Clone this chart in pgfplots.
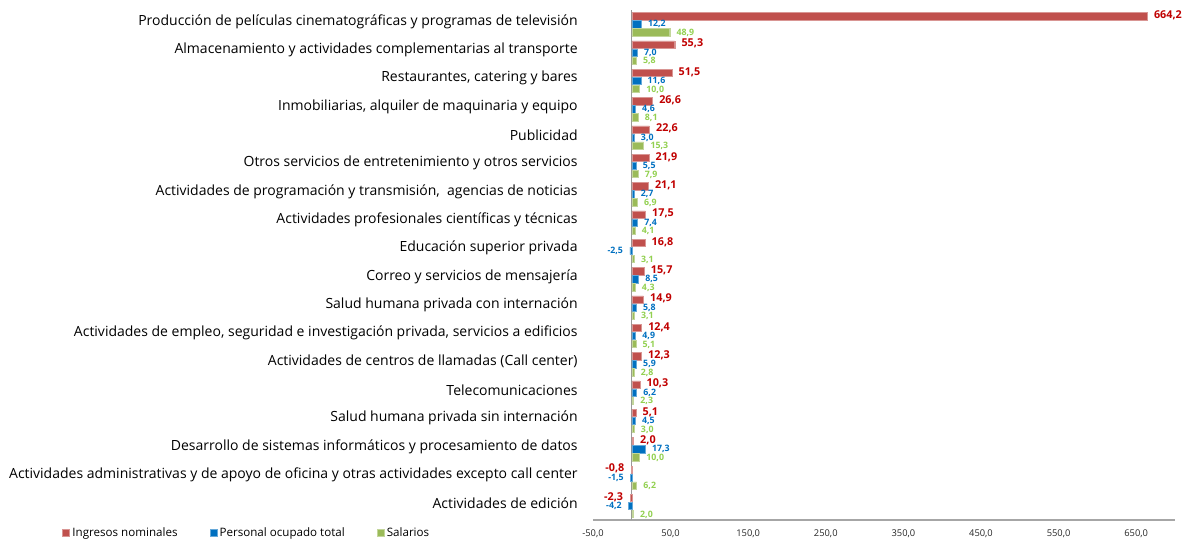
\documentclass[border=0pt]{standalone}
\usepackage{pgfplots}
\usepackage{pgfplotstable}
\pgfplotsset{compat=1.18}
\usepackage{fontspec}
\setmainfont{Open Sans}
\definecolor{cRed}{HTML}{C0504D}
\definecolor{cBlue}{HTML}{0070C0}
\definecolor{cGreen}{HTML}{9BBB59}
\definecolor{lRed}{HTML}{C00000}
\definecolor{lGreen}{HTML}{92D050}
\pgfplotstableread{
idx ing per sal
0 664.2 12.2 48.9
1 55.3 7.0 5.8
2 51.5 11.6 10.0
3 26.6 4.6 8.1
4 22.6 3.0 15.3
5 21.9 5.5 7.9
6 21.1 2.7 6.9
7 17.5 7.4 4.1
8 16.8 -2.5 3.1
9 15.7 8.5 4.3
10 14.9 5.8 3.1
11 12.4 4.9 5.1
12 12.3 5.9 2.8
13 10.3 6.2 2.3
14 5.1 4.5 3.0
15 2.0 17.3 10.0
16 -0.8 -1.5 6.2
17 -2.3 -4.2 2.0
}\datatable
\begin{document}
\begin{tikzpicture}
\begin{axis}[
  scale only axis,
  width=436.5pt, height=382.5pt,
  xbar,
  bar width=5.6pt,
  xmin=-50, xmax=700,
  ymin=-0.5, ymax=17.5,
  y dir=reverse,
  axis x line*=bottom,
  axis y line*=left,
  x axis line style={draw=gray!70, line width=0.8pt},
  y axis line style={draw=none},
  xtick={-50,50,150,250,350,450,550,650},
  major tick length=0pt,
  extra x ticks={0},
  extra x tick labels={},
  extra x tick style={grid=major, major grid style={draw=gray!80, line width=0.9pt}},
  xticklabel style={font=\fontsize{7}{8}\selectfont, text=black!85, yshift=-3.5pt},
  /pgf/number format/.cd, use comma, fixed, fixed zerofill, precision=1, assume math mode=true,
  /pgfplots/.cd,
  ytick={0,...,17},
  yticklabels={
    Producción de películas cinematográficas y programas de televisión,
    Almacenamiento y actividades complementarias al transporte,
    {Restaurantes, catering y bares},
    {Inmobiliarias, alquiler de maquinaria y equipo},
    Publicidad,
    Otros servicios de entretenimiento y otros servicios,
    {Actividades de programación y transmisión,\ \ agencias de noticias},
    Actividades profesionales científicas y técnicas\ ,
    Educación superior privada,
    Correo y servicios de mensajería,
    Salud humana privada con internación,
    {Actividades de empleo, seguridad e investigación privada, servicios a edificios},
    Actividades de centros de llamadas (Call center),
    Telecomunicaciones,
    Salud humana privada sin internación,
    Desarrollo de sistemas informáticos y procesamiento de datos,
    Actividades administrativas y de apoyo de oficina y otras actividades excepto call center,
    Actividades de edición},
  yticklabel style={font=\fontsize{10.5}{12}\selectfont, text=black, xshift=-8pt, yshift=2pt},
  clip=false,
  nodes near coords,
  every node near coord/.append style={inner xsep=5pt, inner ysep=0pt},
  legend style={draw=none, fill=none, at={(-0.919,-0.0255)}, anchor=west,
    font=\fontsize{8.7}{10}\selectfont, legend columns=3,
    /tikz/every even column/.append style={column sep=22pt}},
  legend image code/.code={\fill[#1] (0pt,-2.6pt) rectangle (5.2pt,2.6pt);},
]
\addplot[fill=cRed, draw=cRed!60, line width=0.3pt, bar shift=6pt,
  every node near coord/.append style={font=\bfseries\fontsize{8.1}{9}\selectfont, text=lRed, yshift=0.7pt}]
  table[x=ing, y=idx] {\datatable};
\addplot[fill=cBlue, draw=cBlue!60, line width=0.3pt, bar shift=0pt,
  every node near coord/.append style={font=\bfseries\fontsize{6.6}{7}\selectfont, text=cBlue}]
  table[x=per, y=idx] {\datatable};
\addplot[fill=cGreen, draw=cGreen!60, line width=0.3pt, bar shift=-6pt,
  every node near coord/.append style={font=\bfseries\fontsize{6.6}{7}\selectfont, text=lGreen, yshift=-0.5pt}]
  table[x=sal, y=idx] {\datatable};
\legend{Ingresos nominales, Personal ocupado total, Salarios}
\end{axis}
\pgfresetboundingbox
\path (current axis.south west) ++(-444.75pt,-14.25pt) rectangle ++(891pt,404.25pt);
\end{tikzpicture}
\end{document}
